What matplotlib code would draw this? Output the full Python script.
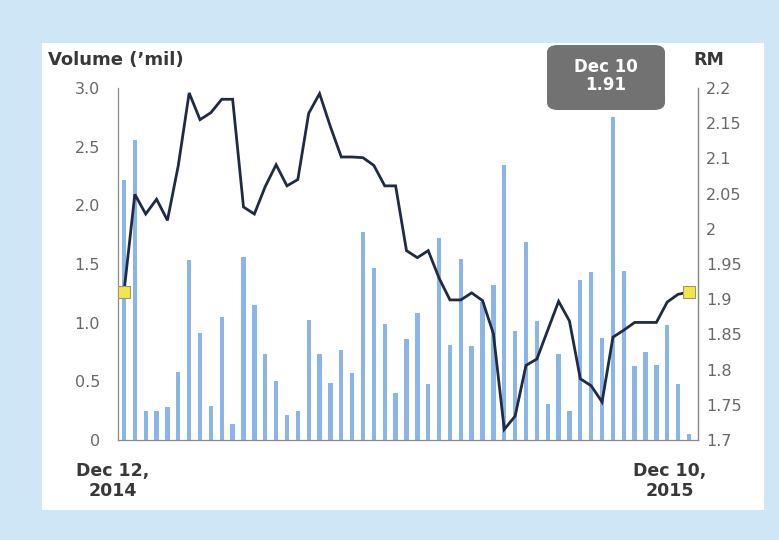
import matplotlib
matplotlib.use("Agg")
import matplotlib.pyplot as plt
from matplotlib.patches import Rectangle, FancyBboxPatch

# ---- data ----
volume = [2.22, 2.56, 0.25, 0.25, 0.28, 0.58, 1.53, 0.91, 0.29, 1.05,
          0.14, 1.56, 1.15, 0.73, 0.50, 0.21, 0.25, 1.02, 0.73, 0.49,
          0.77, 0.57, 1.77, 1.47, 0.99, 0.40, 0.86, 1.08, 0.48, 1.72,
          0.81, 1.54, 0.80, 1.18, 1.32, 2.34, 0.93, 1.69, 1.01, 0.31,
          0.73, 0.25, 1.36, 1.43, 0.87, 2.75, 1.44, 0.63, 0.75, 0.64,
          0.98, 0.48, 0.05]
price = [1.91, 2.049, 2.021, 2.042, 2.012, 2.09, 2.193, 2.155, 2.165, 2.184,
         2.184, 2.031, 2.021, 2.06, 2.091, 2.061, 2.07, 2.164, 2.192, 2.145,
         2.102, 2.102, 2.101, 2.09, 2.061, 2.061, 1.969, 1.959, 1.969, 1.93,
         1.899, 1.899, 1.909, 1.898, 1.851, 1.715, 1.734, 1.806, 1.815, 1.856,
         1.897, 1.869, 1.787, 1.777, 1.754, 1.846, 1.856, 1.867, 1.867, 1.867,
         1.896, 1.907, 1.91]
left_ticks = [0, 0.5, 1.0, 1.5, 2.0, 2.5, 3.0]
left_labels = ["0", "0.5", "1.0", "1.5", "2.0", "2.5", "3.0"]
right_ticks = [1.7, 1.75, 1.8, 1.85, 1.9, 1.95, 2.0, 2.05, 2.1, 2.15, 2.2]
right_labels = ["1.7", "1.75", "1.8", "1.85", "1.9", "1.95", "2", "2.05", "2.1", "2.15", "2.2"]
start_label = "Dec 12,\n2014"
end_label = "Dec 10,\n2015"
callout = "Dec 10\n1.91"

W, H = 779, 540
BG = "#cfe6f6"
TXT = "#383838"
TICK = "#686868"
BAR = "#8ab5e9"
LINE = "#1f2a44"
FONT = "DejaVu Sans"

fig = plt.figure(figsize=(W / 100, H / 100), dpi=100, facecolor=BG)

def fx(px):
    return px / W

def fy(py):
    return 1 - py / H

# white panel
fig.add_artist(Rectangle((fx(42), fy(510)), fx(764) - fx(42), fy(43) - fy(510),
                         transform=fig.transFigure, facecolor="white",
                         edgecolor="none", zorder=0))

ax = fig.add_axes([fx(118), fy(440), fx(698) - fx(118), fy(88) - fy(440)])
ax.set_facecolor("none")
x = list(range(len(volume)))
ax.bar(x, volume, width=0.40, color=BAR, zorder=1)
ax.set_xlim(-0.55, len(volume) - 1 + 0.83)
ax.set_ylim(0, 3.0)
ax.set_yticks(left_ticks)
ax.set_yticklabels(left_labels)
ax.set_xticks([])
ax.spines["top"].set_visible(False)
for s in ["left", "bottom", "right"]:
    ax.spines[s].set_color("#8a8a8a")
    ax.spines[s].set_linewidth(0.9)
ax.tick_params(axis="y", length=0, pad=13, labelsize=11.5, labelcolor=TICK)
for t in ax.get_yticklabels():
    t.set_fontfamily(FONT)

ax2 = ax.twinx()
ax2.set_ylim(1.7, 2.2)
ax2.plot(x, price, color=LINE, lw=2.0, solid_joinstyle="miter", zorder=3)
ax2.plot([x[0], x[-1]], [price[0], price[-1]], ls="none", marker="s",
         markersize=8, markerfacecolor="#f3e64a", markeredgecolor="#9a9a6a",
         markeredgewidth=0.8, zorder=4, clip_on=False)
ax2.set_yticks(right_ticks)
ax2.set_yticklabels(right_labels)
ax2.tick_params(axis="y", length=0, pad=6, labelsize=11.5, labelcolor=TICK)
for t in ax2.get_yticklabels():
    t.set_fontfamily(FONT)
for s in ["top", "left", "bottom"]:
    ax2.spines[s].set_visible(False)
ax2.spines["right"].set_color("#8a8a8a")
ax2.spines["right"].set_linewidth(0.9)

# titles
fig.text(fx(48), fy(60), "Volume (\u2019mil)", fontsize=13, fontweight="bold",
         color=TXT, family=FONT, va="center", ha="left")
fig.text(fx(693), fy(60), "RM", fontsize=12.5, fontweight="bold",
         color=TXT, family=FONT, va="center", ha="left")

# date labels
fig.text(fx(113), fy(481), start_label, fontsize=12.5, fontweight="bold",
         color=TXT, family=FONT, ha="center", va="center", linespacing=1.2)
fig.text(fx(670), fy(481), end_label, fontsize=12.5, fontweight="bold",
         color=TXT, family=FONT, ha="center", va="center", linespacing=1.2)

# callout box
bx0, by0, bx1, by1 = 547, 45, 665, 110
fig.add_artist(FancyBboxPatch((fx(bx0), fy(by1)), fx(bx1) - fx(bx0), fy(by0) - fy(by1),
                              boxstyle="round,pad=0,rounding_size=0.014",
                              transform=fig.transFigure, facecolor="#727272",
                              edgecolor="none", zorder=5))
fig.text(fx((bx0 + bx1) / 2), fy(76), callout, fontsize=12, fontweight="bold",
         color="white", family=FONT, ha="center", va="center", linespacing=1.05,
         zorder=6)

fig.savefig("out.png", dpi=100, facecolor=BG)
